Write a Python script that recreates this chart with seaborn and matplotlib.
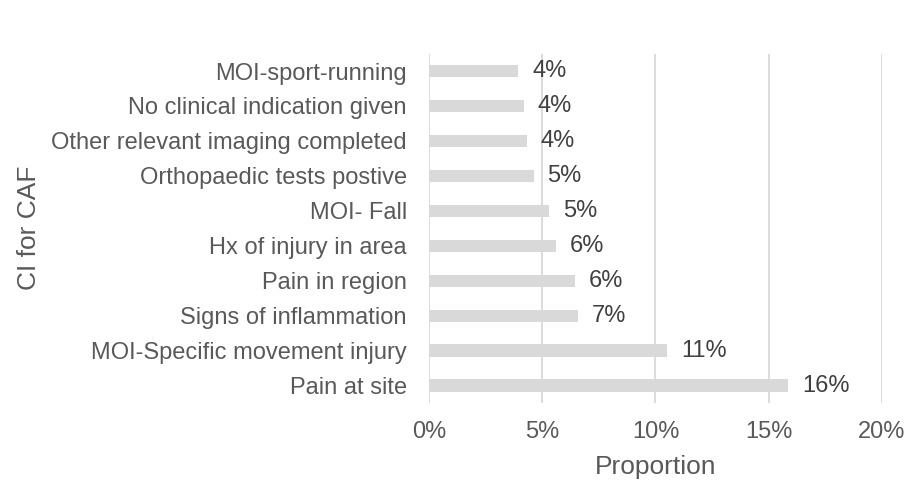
import pandas as pd
import matplotlib.pyplot as plt
import seaborn as sns
from matplotlib.ticker import PercentFormatter

# --- Data ---
categories = [
    "MOI-sport-running",
    "No clinical indication given",
    "Other relevant imaging completed",
    "Orthopaedic tests postive",
    "MOI- Fall",
    "Hx of injury in area",
    "Pain in region",
    "Signs of inflammation",
    "MOI-Specific movement injury",
    "Pain at site",
]
proportions = [0.0394, 0.0419, 0.0432, 0.0462, 0.0531, 0.0560, 0.0646, 0.0659, 0.1052, 0.1586]
x_ticks = [0, 0.05, 0.10, 0.15, 0.20]

df = pd.DataFrame({"ci": categories, "proportion": proportions})

# --- Style ---
sns.set_theme(style="white")
plt.rcParams['font.family'] = ['Liberation Sans', 'DejaVu Sans']
text_grey = "#595959"
bar_grey = "#D9D9D9"

fig = plt.figure(figsize=(9.1, 4.87), dpi=100)
ax = fig.add_axes([0.4714, 0.1725, 0.4978, 0.7175])

sns.barplot(data=df, x="proportion", y="ci", orient="h", color=bar_grey,
            width=0.35, saturation=1, linewidth=0, ax=ax, zorder=2)

ax.set_xlim(0, 0.20)
ax.set_xticks(x_ticks)
ax.xaxis.set_major_formatter(PercentFormatter(1.0, decimals=0))
ax.grid(axis="x", color=bar_grey, linewidth=1.3, zorder=0)
ax.set_axisbelow(True)
sns.despine(ax=ax, left=True, bottom=True)

ax.tick_params(axis="x", length=0, pad=13, labelsize=17, labelcolor=text_grey)
ax.tick_params(axis="y", length=0, pad=16, labelsize=17, labelcolor=text_grey)

ax.set_xlabel("Proportion", fontsize=19, color=text_grey)
ax.set_ylabel("CI for CAF", fontsize=19, color=text_grey)
ax.xaxis.set_label_coords(0.5, -0.148)
ax.yaxis.set_label_coords(-0.857, 0.5)

# value labels
ax.bar_label(ax.containers[0], labels=[f"{v:.0%}" for v in proportions],
             padding=10, fontsize=17, color="#404040")

fig.savefig("out.png", dpi=100)
